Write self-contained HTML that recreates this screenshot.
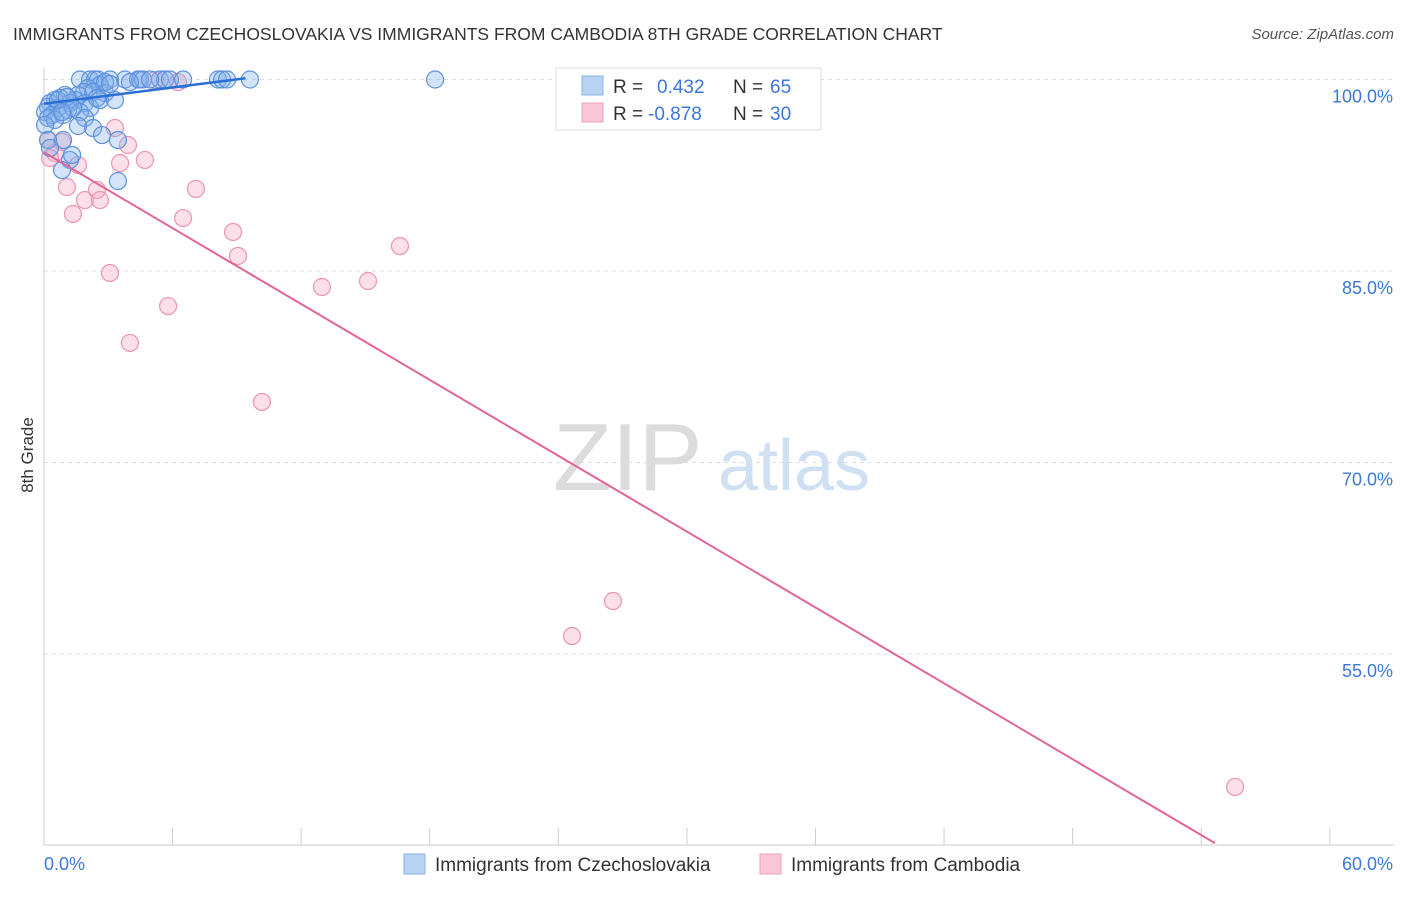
<!DOCTYPE html>
<html><head><meta charset="utf-8"><style>
body{margin:0;background:#fff;font-family:"Liberation Sans",sans-serif;}
svg text{font-family:"Liberation Sans",sans-serif;}
</style></head><body>
<svg id="chart" width="1406" height="892" xmlns="http://www.w3.org/2000/svg">
<text x="13" y="40" font-size="17.5" fill="#333">IMMIGRANTS FROM CZECHOSLOVAKIA VS IMMIGRANTS FROM CAMBODIA 8TH GRADE CORRELATION CHART</text>
<text x="1394" y="39" font-size="15" fill="#555" font-style="italic" text-anchor="end">Source: ZipAtlas.com</text>
<g>
<text x="553" y="490" font-size="96" fill="#dcdcdc" font-family="Liberation Serif,serif">ZIP</text>
<text x="718" y="490" font-size="72" fill="#cfe0f3">atlas</text>
</g>
<g id="grid"></g>
<g id="axes"></g>
<text transform="translate(33,455) rotate(-90)" font-size="17" fill="#333" text-anchor="middle">8th Grade</text>
<g id="pts"></g>
<g id="lines"></g>
<g>
<rect x="556" y="68" width="265" height="62" fill="#fff" stroke="#ddd"/>
<rect x="582" y="76" width="21" height="19" fill="#b8d2f3" stroke="#8ab1e6"/>
<rect x="582" y="103" width="21" height="19" fill="#fac6d6" stroke="#f0a0ba"/>
<text x="613" y="93" font-size="19" fill="#333">R =</text>
<text x="657" y="93" font-size="19" fill="#3b78d8">0.432</text>
<text x="733" y="93" font-size="19" fill="#333">N =</text>
<text x="770" y="93" font-size="19" fill="#3b78d8">65</text>
<text x="613" y="120" font-size="19" fill="#333">R =</text>
<text x="648" y="120" font-size="19" fill="#3b78d8">-0.878</text>
<text x="733" y="120" font-size="19" fill="#333">N =</text>
<text x="770" y="120" font-size="19" fill="#3b78d8">30</text>
</g>
<g>
<rect x="404" y="854" width="21" height="20" fill="#b8d2f3" stroke="#8ab1e6"/>
<text x="435" y="871" font-size="19" fill="#333">Immigrants from Czechoslovakia</text>
<rect x="760" y="854" width="21" height="20" fill="#fac6d6" stroke="#f0a0ba"/>
<text x="791" y="871" font-size="19" fill="#333">Immigrants from Cambodia</text>
</g>
</svg>
<script>
const yTicks=[100,85,70,55];
const yTickLabels=["100.0%","85.0%","70.0%","55.0%"];
const xTickVals=[0,6,12,18,24,30,36,42,48,54,60];
const xEndLabels=["0.0%","60.0%"];
const blueX=[1.68,2.15,2.38,2.52,3.08,3.78,4.39,4.48,4.62,5.41,5.65,5.88,6.49,8.12,8.31,8.54,9.61,18.25,2.61,2.05,1.87,2.29,2.85,1.59,0.98,0.75,0.51,1.45,2.61,3.31,0.28,1.21,1.91,0.19,0.65,1.12,2.15,0.05,0.37,0.19,0.89,1.68,1.91,0.51,0.05,1.59,2.29,2.71,3.45,0.89,0.19,1.21,1.31,0.84,3.45,0.28,0.65,1.07,2.47,2.85,3.08,4.01,4.95,1.35,0.84];
const blueY=[100,100,100,100,100,100,100,100,100,100,100,100,100,100,100,100,100,100,99.57,99.33,99.02,99.02,98.94,98.79,98.79,98.55,98.39,98.39,98.39,98.39,98.16,98.16,98.16,97.85,97.77,97.61,97.77,97.45,97.22,96.99,97.22,97.45,96.99,96.83,96.44,96.36,96.2,95.65,95.26,95.26,95.26,93.7,94.09,92.91,92.05,94.64,98.39,98.63,98.55,99.8,99.65,99.8,100,97.77,97.45];
const pinkX=[0.19,0.51,0.28,0.84,1.59,1.07,1.35,1.91,2.47,2.61,3.08,3.31,3.92,3.55,4.71,4.01,5.79,6.49,7.09,8.82,9.05,10.17,12.97,15.12,16.61,24.64,26.55,55.58,5.18,6.25];
const pinkY=[95.26,94.24,93.85,95.11,93.3,91.58,89.47,90.56,91.35,90.56,84.85,96.2,94.87,93.46,93.7,79.37,82.26,89.15,91.43,88.06,86.18,74.75,83.75,84.22,86.96,56.42,59.16,44.6,99.96,99.8];
const blueLine=[[0,98.1],[9.4,100.1]];
const pinkLine=[[0,94.3],[54.64,40.2]];
const NS="http://www.w3.org/2000/svg";
const X=v=>44+v*21.43, Y=v=>79.5+(100-v)*12.77;
function mk(tag,attrs,parent){const e=document.createElementNS(NS,tag);for(const k in attrs)e.setAttribute(k,attrs[k]);parent.appendChild(e);return e;}
const grid=document.getElementById('grid'),axes=document.getElementById('axes');
yTicks.forEach((t,i)=>{
 const l=mk('line',{x1:44,x2:1394,y1:Y(t),y2:Y(t),stroke:'#ddd','stroke-dasharray':'4,4'},grid);
 
 
 const tx=mk('text',{x:1393,y:Y(t)+23,'font-size':18,fill:'#3b78d8','text-anchor':'end'},axes);
 tx.textContent=yTickLabels[i];
 
 
});
const ax=mk('line',{x1:44,x2:1394,y1:845,y2:845,stroke:'#ccc'},axes);


const ay=mk('line',{x1:44,x2:44,y1:68,y2:845,stroke:'#ccc'},axes);


xTickVals.forEach(v=>{const t=mk('line',{x1:X(v),x2:X(v),y1:828,y2:845,stroke:'#ccc'},axes);
 
 });
const xl0=mk('text',{x:44,y:870,'font-size':18,fill:'#3b78d8'},axes);xl0.textContent=xEndLabels[0];


const xl1=mk('text',{x:1393,y:870,'font-size':18,fill:'#3b78d8','text-anchor':'end'},axes);xl1.textContent=xEndLabels[1];


const pts=document.getElementById('pts');
pinkX.forEach((x,i)=>{const c=mk('circle',{cx:X(x),cy:Y(pinkY[i]),r:8.5,fill:'rgba(248,175,200,0.4)',stroke:'#ec94b2','stroke-width':1.2},pts);
 
 });
blueX.forEach((x,i)=>{const c=mk('circle',{cx:X(x),cy:Y(blueY[i]),r:8.5,fill:'rgba(130,175,235,0.35)',stroke:'#5d91dc','stroke-width':1.2},pts);
 
 });
const lines=document.getElementById('lines');
const bl=mk('line',{x1:X(blueLine[0][0]),y1:Y(blueLine[0][1]),x2:X(blueLine[1][0]),y2:Y(blueLine[1][1]),stroke:'#2a6fd4','stroke-width':2.5},lines);


const pl=mk('line',{x1:X(pinkLine[0][0]),y1:Y(pinkLine[0][1]),x2:X(pinkLine[1][0]),y2:Y(pinkLine[1][1]),stroke:'#e0659a','stroke-width':2},lines);


</script>
</body></html>
